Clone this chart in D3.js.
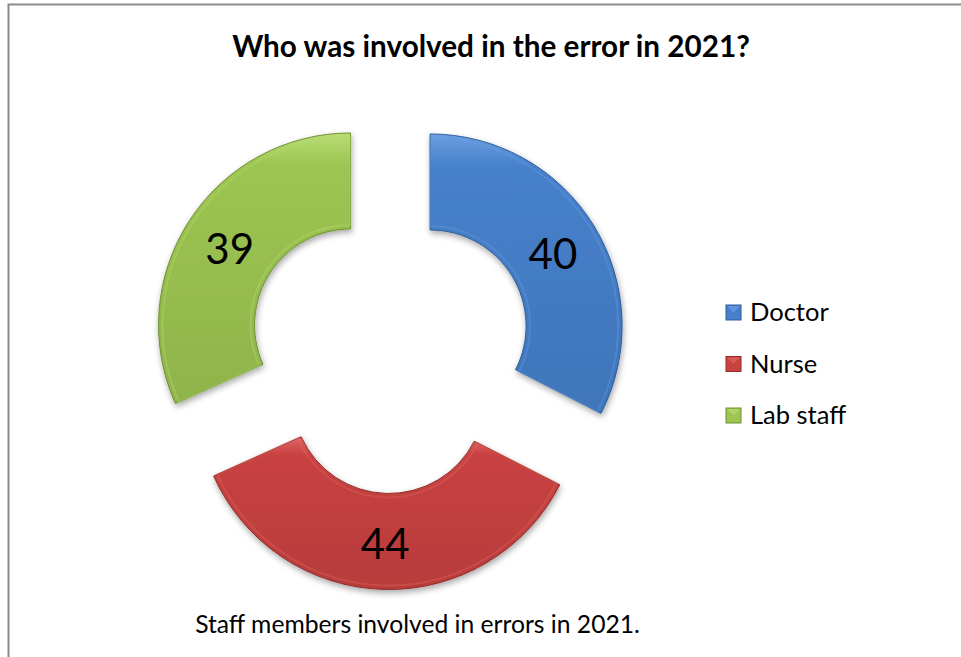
<!DOCTYPE html>
<html><head><meta charset="utf-8">
<script src="https://cdn.jsdelivr.net/npm/d3@7"></script>
<style>html,body{margin:0;padding:0;background:#fff;overflow:hidden}</style>
</head><body><svg id="c" width="961" height="657"></svg>
<script>
const categories = ["Doctor", "Nurse", "Lab staff"];
const values = [40, 44, 39];
const colors = ["#4680cb", "#c84240", "#9cc552"];
const darkColors = ["#2c5d9c", "#922c2a", "#6f8f32"];
const lightColors = ["#6b9ee0", "#e06664", "#b8dc74"];
const titleText = "Who was involved in the error in 2021?";
const captionText = "Staff members involved in errors in 2021.";

const svg = d3.select("#c");
const FONT = "Lato, 'Open Sans', sans-serif";

// frame
svg.append("rect").attr("x", 8.5).attr("y", 4.5).attr("width", 980).attr("height", 700)
  .attr("fill", "#fff").attr("stroke", "#8c8c8c").attr("stroke-width", 2);

const defs = svg.append("defs");
const f = defs.append("filter").attr("id", "sh").attr("x", "-20%").attr("y", "-20%").attr("width", "140%").attr("height", "140%");
f.append("feDropShadow").attr("dx", 1).attr("dy", 3).attr("stdDeviation", 3).attr("flood-color", "#000").attr("flood-opacity", 0.35);

colors.forEach((c, i) => {
  const g = defs.append("linearGradient").attr("id", "g" + i).attr("x1", 0).attr("y1", 0).attr("x2", 0).attr("y2", 1);
  g.append("stop").attr("offset", "0%").attr("stop-color", lightColors[i]);
  g.append("stop").attr("offset", "12%").attr("stop-color", c);
  g.append("stop").attr("offset", "100%").attr("stop-color", d3.color(c).darker(0.25));
});

const cx = 390, cy = 350.5, R = 192, r = 96, explode = 47;
const pie = d3.pie().sort(null).value(d => d)(values);
const arc = d3.arc().innerRadius(r).outerRadius(R);
const arcInner = d3.arc().innerRadius(r + 4).outerRadius(R - 4);
const labelArc = d3.arc().innerRadius((r + R) / 2).outerRadius((r + R) / 2);

const g = svg.append("g").attr("transform", `translate(${cx},${cy})`);
pie.forEach((p, i) => {
  const mid = (p.startAngle + p.endAngle) / 2;
  const ox = explode * Math.sin(mid), oy = -explode * Math.cos(mid);
  const sg = g.append("g").attr("transform", `translate(${ox},${oy})`);
  sg.append("path").attr("d", arc(p)).attr("fill", `url(#g${i})`).attr("filter", "url(#sh)")
    .attr("stroke", darkColors[i]).attr("stroke-width", 1);
  sg.append("path").attr("d", arcInner(p)).attr("fill", "none")
    .attr("stroke", lightColors[i]).attr("stroke-opacity", 0.35).attr("stroke-width", 2);
  const [lx, ly] = labelArc.centroid(p);
  sg.append("text").attr("x", lx).attr("y", ly + 3).attr("dy", "0.35em").attr("text-anchor", "middle")
    .attr("font-family", FONT).attr("font-size", 42).attr("fill", "#000").text(values[i]);
});

function fit(t, w) {
  const L = t.node().getComputedTextLength();
  const fs = parseFloat(t.attr("font-size"));
  t.attr("font-size", fs * w / L);
}

const title = svg.append("text").attr("x", 491).attr("y", 57).attr("text-anchor", "middle")
  .attr("font-family", FONT).attr("font-weight", "bold").attr("font-size", 26).text(titleText);
fit(title, 518);

const cap = svg.append("text").attr("x", 417.5).attr("y", 633).attr("text-anchor", "middle")
  .attr("font-family", FONT).attr("font-size", 22).text(captionText);
fit(cap, 445);

const leg = svg.append("g");
categories.forEach((c, i) => {
  const y = 304 + i * 51.5;
  leg.append("rect").attr("x", 726).attr("y", y + 1).attr("width", 15).attr("height", 15)
    .attr("fill", colors[i]).attr("stroke", darkColors[i]).attr("stroke-width", 1);
  leg.append("path").attr("d", `M${727},${y + 2} L${733.5},${y + 8.5} L${740},${y + 2}`)
    .attr("fill", lightColors[i]).attr("opacity", 0.7);
  leg.append("text").attr("x", 750).attr("y", y + 17).attr("font-family", FONT)
    .attr("font-size", 25.5).attr("fill", "#000").text(c);
});
</script></body></html>
